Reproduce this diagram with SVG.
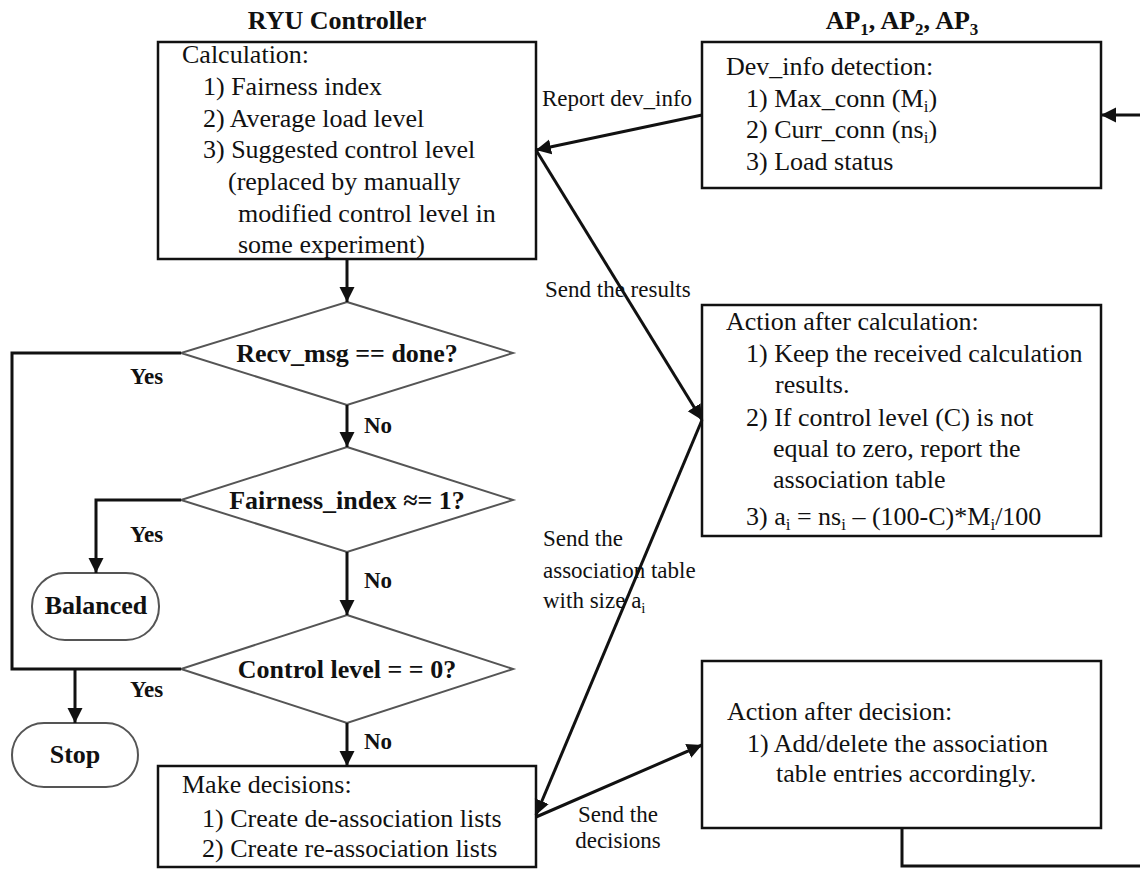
<svg xmlns="http://www.w3.org/2000/svg" width="1140" height="870" viewBox="0 0 1140 870">
<style>
text{font-family:"Liberation Serif","Times New Roman",serif;fill:#111}
.t{font-size:26px}
.b{font-size:26px;font-weight:bold}
.yn{font-size:23px;font-weight:bold}
.lbl{font-size:23px}
.box{fill:#fff;stroke:#111;stroke-width:2.5}
.dia{fill:#fff;stroke:#555;stroke-width:2}
.term{fill:#fff;stroke:#555;stroke-width:2}
.c{fill:none;stroke:#111;stroke-width:3}
.cm{fill:none;stroke:#111;stroke-width:3;marker-end:url(#ah)}
</style>
<defs>
<marker id="ah" markerUnits="userSpaceOnUse" markerWidth="16" markerHeight="16" viewBox="0 0 16 16" refX="15" refY="8" orient="auto">
<path d="M0,0.5 L15,8 L0,15.5 z" fill="#111"/>
</marker>
</defs>

<text class="b" x="337" y="29" text-anchor="middle">RYU Controller</text>
<text class="b" x="902" y="29" text-anchor="middle">AP<tspan font-size="17" dy="6">1</tspan><tspan dy="-6">, AP</tspan><tspan font-size="17" dy="6">2</tspan><tspan dy="-6">, AP</tspan><tspan font-size="17" dy="6">3</tspan></text>

<g id="calc">
<rect class="box" x="158" y="42" width="378" height="217"/>
<text class="t" x="182" y="63">Calculation:</text>
<text class="t" x="203" y="95">1) Fairness index</text>
<text class="t" x="203" y="127">2) Average load level</text>
<text class="t" x="203" y="158">3) Suggested control level</text>
<text class="t" x="228" y="190">(replaced by manually</text>
<text class="t" x="238" y="222">modified control level in</text>
<text class="t" x="238" y="253">some experiment)</text>
</g>

<g id="devinfo">
<rect class="box" x="702" y="42" width="399" height="146"/>
<text class="t" x="726" y="75">Dev_info detection:</text>
<text class="t" x="746" y="107">1) Max_conn (M<tspan font-size="17" dy="5">i</tspan><tspan dy="-5">)</tspan></text>
<text class="t" x="746" y="138">2) Curr_conn (ns<tspan font-size="17" dy="5">i</tspan><tspan dy="-5">)</tspan></text>
<text class="t" x="746" y="170">3) Load status</text>
</g>

<g id="actcalc">
<rect class="box" x="702" y="305" width="399" height="231"/>
<text class="t" x="726" y="330">Action after calculation:</text>
<text class="t" x="746" y="362">1) Keep the received calculation</text>
<text class="t" x="775" y="393">results.</text>
<text class="t" x="746" y="426">2) If control level (C) is not</text>
<text class="t" x="773" y="457">equal to zero, report the</text>
<text class="t" x="773" y="488">association table</text>
<text class="t" x="746" y="525">3) a<tspan font-size="17" dy="5">i</tspan><tspan dy="-5"> = ns</tspan><tspan font-size="17" dy="5">i</tspan><tspan dy="-5"> – (100-C)*M</tspan><tspan font-size="17" dy="5">i</tspan><tspan dy="-5">/100</tspan></text>
</g>

<g id="d1">
<polygon class="dia" points="347,302 513,353 347,405 181,353"/>
<text class="b" x="347" y="362" text-anchor="middle">Recv_msg == done?</text>
</g>

<g id="d2">
<polygon class="dia" points="347,447 513,500 347,552 181,500"/>
<text class="b" x="347" y="509" text-anchor="middle">Fairness_index ≈= 1?</text>
</g>

<g id="d3">
<polygon class="dia" points="347,615 513,669 347,723 181,669"/>
<text class="b" x="347" y="678" text-anchor="middle">Control level = = 0?</text>
</g>

<g id="balanced">
<rect class="term" x="32" y="573" width="127" height="67" rx="33" ry="33"/>
<text class="b" x="96" y="614" text-anchor="middle">Balanced</text>
</g>

<g id="stop">
<rect class="term" x="12" y="723" width="126" height="64" rx="32" ry="32"/>
<text class="b" x="75" y="763" text-anchor="middle">Stop</text>
</g>

<g id="decide">
<rect class="box" x="158" y="766" width="378" height="101"/>
<text class="t" x="182" y="793">Make decisions:</text>
<text class="t" x="202" y="827">1) Create de-association lists</text>
<text class="t" x="202" y="857">2) Create re-association lists</text>
</g>

<g id="actdec">
<rect class="box" x="702" y="661" width="399" height="167"/>
<text class="t" x="727" y="720">Action after decision:</text>
<text class="t" x="747" y="752">1) Add/delete the association</text>
<text class="t" x="776" y="782">table entries accordingly.</text>
</g>

<g id="connectors">
<line class="cm" x1="347" y1="259" x2="347" y2="302"/>
<line class="cm" x1="347" y1="405" x2="347" y2="447"/>
<line class="cm" x1="347" y1="552" x2="347" y2="615"/>
<line class="cm" x1="347" y1="723" x2="347" y2="766"/>
<polyline class="c" points="181,353 12,353 12,669 181,669"/>
<line class="cm" x1="75" y1="669" x2="75" y2="723"/>
<polyline class="cm" points="181,500 96,500 96,573"/>
<line class="cm" x1="702" y1="115" x2="536" y2="150"/>
<line class="cm" x1="536" y1="150" x2="702" y2="420"/>
<line class="cm" x1="702" y1="420" x2="536" y2="815"/>
<line class="cm" x1="536" y1="817" x2="702" y2="745"/>
<polyline class="c" points="902,828 902,866 1140,866"/>
<line class="cm" x1="1140" y1="115" x2="1101" y2="115"/>

<text class="yn" x="130" y="384">Yes</text>
<text class="yn" x="364" y="433">No</text>
<text class="yn" x="130" y="542">Yes</text>
<text class="yn" x="364" y="588">No</text>
<text class="yn" x="130" y="697">Yes</text>
<text class="yn" x="364" y="749">No</text>

<text class="lbl" x="542" y="106">Report dev_info</text>
<text class="lbl" x="545" y="297">Send the results</text>
<text class="lbl" x="543" y="546">Send the</text>
<text class="lbl" x="543" y="578">association table</text>
<text class="lbl" x="543" y="608">with size a<tspan font-size="15" dy="5">i</tspan></text>
<text class="lbl" x="618" y="822" text-anchor="middle">Send the</text>
<text class="lbl" x="618" y="848" text-anchor="middle">decisions</text>
</g>
</svg>
